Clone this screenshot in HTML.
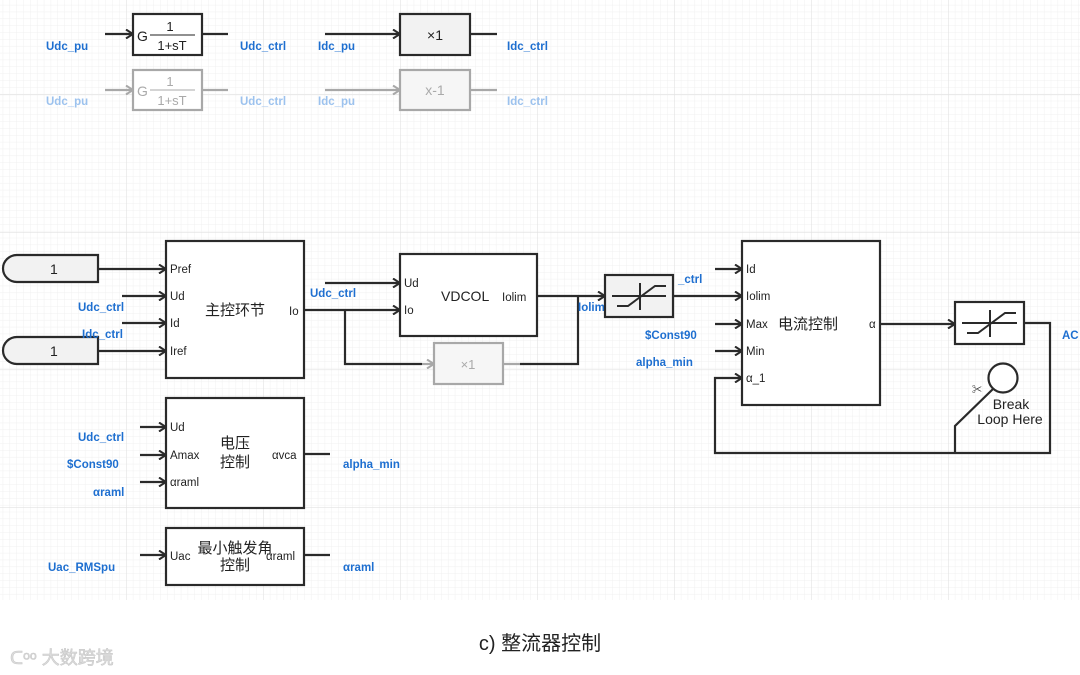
<!DOCTYPE html>
<html><head><meta charset="utf-8"><style>
html,body{margin:0;padding:0;background:#fff;}
svg{display:block;}
text{font-family:"Liberation Sans","Noto Sans CJK SC",sans-serif;}
.b{fill:#1e6fd0;font-size:11.5px;font-weight:bold;}
.lb{fill:#9cc2ee;font-size:11.5px;font-weight:bold;}
.p{fill:#222;font-size:11.5px;}
.blk{fill:#fff;stroke:#2a2a2a;stroke-width:2.2;}
.w{stroke:#2a2a2a;stroke-width:2.2;fill:none;}
.g{stroke:#a8a8a8;stroke-width:2.2;fill:none;}
</style></head><body>
<svg width="1080" height="675" viewBox="0 0 1080 675" xmlns="http://www.w3.org/2000/svg">
<defs>
<pattern id="mn" x="-11" y="-2" width="6.85" height="6.85" patternUnits="userSpaceOnUse">
<path d="M0 0H6.85M0 0V6.85" stroke="#f0f0f0" stroke-width="1"/>
</pattern>
<pattern id="mj" x="-11" y="-43" width="137" height="137.5" patternUnits="userSpaceOnUse">
<path d="M0 0H137M0 0V137.5" stroke="#e2e2e2" stroke-width="1.2"/>
</pattern>
<marker id="ar" markerWidth="10" markerHeight="10" refX="9" refY="5" orient="auto" markerUnits="userSpaceOnUse"><path d="M2 0.5L9 5L2 9.5" fill="none" stroke="#2a2a2a" stroke-width="2"/></marker>
<marker id="ag" markerWidth="10" markerHeight="10" refX="9" refY="5" orient="auto" markerUnits="userSpaceOnUse"><path d="M2 0.5L9 5L2 9.5" fill="none" stroke="#a8a8a8" stroke-width="2"/></marker>
</defs>
<rect x="0" y="0" width="1080" height="600" fill="url(#mn)"/>
<rect x="0" y="0" width="1080" height="600" fill="url(#mj)"/>

<!-- top row -->
<path class="w" d="M105 34H133" marker-end="url(#ar)"/>
<rect class="blk" x="133" y="14" width="69" height="41"/>
<text x="137" y="41" font-size="14" fill="#222">G</text>
<text x="170" y="31" font-size="13" fill="#222" text-anchor="middle">1</text>
<path d="M150 35H195" stroke="#222" stroke-width="1"/>
<text x="172" y="50" font-size="13" fill="#222" text-anchor="middle">1+sT</text>
<path class="w" d="M202 34H228"/>
<text class="b" x="46" y="50">Udc_pu</text>
<text class="b" x="240" y="50">Udc_ctrl</text>

<path class="w" d="M325 34H400" marker-end="url(#ar)"/>
<rect x="400" y="14" width="70" height="41" fill="#f2f2f2" stroke="#2a2a2a" stroke-width="2.2"/>
<text x="435" y="40" font-size="14" fill="#222" text-anchor="middle">×1</text>
<path class="w" d="M470 34H497"/>
<text class="b" x="318" y="50">Idc_pu</text>
<text class="b" x="507" y="50">Idc_ctrl</text>

<!-- gray row -->
<path class="g" d="M105 90H133" marker-end="url(#ag)"/>
<rect x="133" y="70" width="69" height="40" fill="#fff" stroke="#a8a8a8" stroke-width="2.2"/>
<text x="137" y="96" font-size="14" fill="#aaa">G</text>
<text x="170" y="86" font-size="13" fill="#aaa" text-anchor="middle">1</text>
<path d="M150 90H195" stroke="#aaa" stroke-width="1"/>
<text x="172" y="105" font-size="13" fill="#aaa" text-anchor="middle">1+sT</text>
<path class="g" d="M202 90H228"/>
<text class="lb" x="46" y="105">Udc_pu</text>
<text class="lb" x="240" y="105">Udc_ctrl</text>
<path class="g" d="M325 90H400" marker-end="url(#ag)"/>
<rect x="400" y="70" width="70" height="40" fill="#f6f6f6" stroke="#a8a8a8" stroke-width="2.2"/>
<text x="435" y="95" font-size="14" fill="#aaa" text-anchor="middle">x-1</text>
<path class="g" d="M470 90H497"/>
<text class="lb" x="318" y="105">Idc_pu</text>
<text class="lb" x="507" y="105">Idc_ctrl</text>

<!-- constants -->
<path d="M17 255H98V282H17A14 13.5 0 0 1 17 255Z" fill="#f2f2f2" stroke="#2a2a2a" stroke-width="2.2"/>
<text x="50" y="274" font-size="14" fill="#222">1</text>
<path d="M17 337H98V364H17A14 13.5 0 0 1 17 337Z" fill="#f2f2f2" stroke="#2a2a2a" stroke-width="2.2"/>
<text x="50" y="356" font-size="14" fill="#222">1</text>

<!-- main control -->
<path class="w" d="M98 269H166" marker-end="url(#ar)"/>
<path class="w" d="M122 296H166" marker-end="url(#ar)"/>
<path class="w" d="M122 323H166" marker-end="url(#ar)"/>
<path class="w" d="M98 351H166" marker-end="url(#ar)"/>
<rect class="blk" x="166" y="241" width="138" height="137"/>
<text class="p" x="170" y="273">Pref</text>
<text class="p" x="170" y="300">Ud</text>
<text class="p" x="170" y="327">Id</text>
<text class="p" x="170" y="355">Iref</text>
<text x="235" y="315" font-size="15" fill="#222" text-anchor="middle">主控环节</text>
<text class="p" x="289" y="315">Io</text>
<text class="b" x="78" y="311">Udc_ctrl</text>
<text class="b" x="82" y="338">Idc_ctrl</text>
<text class="b" x="310" y="297">Udc_ctrl</text>

<path class="w" d="M304 310H400" marker-end="url(#ar)"/>
<path class="w" d="M325 283H400" marker-end="url(#ar)"/>
<rect class="blk" x="400" y="254" width="137" height="82"/>
<text class="p" x="404" y="287">Ud</text>
<text class="p" x="404" y="314">Io</text>
<text x="441" y="301" font-size="14" fill="#222">VDCOL</text>
<text class="p" x="502" y="301">Iolim</text>
<path class="w" d="M345 310V364H422"/>
<path class="g" d="M422 364H434" marker-end="url(#ag)"/>
<rect x="434" y="343" width="69" height="41" fill="#f6f6f6" stroke="#a8a8a8" stroke-width="2.2"/>
<text x="468" y="369" font-size="13" fill="#aaa" text-anchor="middle">×1</text>
<path class="g" d="M503 364H520"/>
<path class="w" d="M520 364H578V296"/>
<path class="w" d="M537 296H605" marker-end="url(#ar)"/>
<text class="b" x="578" y="311">Iolim</text>

<!-- limiter 1 -->
<rect x="605" y="275" width="68" height="42" fill="#f2f2f2" stroke="#2a2a2a" stroke-width="2.2"/>
<path d="M612 296H666M640 283V310M617 306H628L655 286H666" stroke="#2a2a2a" stroke-width="2" fill="none"/>
<text class="b" x="678" y="283">_ctrl</text>
<path class="w" d="M673 296H742" marker-end="url(#ar)"/>

<!-- current control -->
<path class="w" d="M715 269H742" marker-end="url(#ar)"/>
<path class="w" d="M715 324H742" marker-end="url(#ar)"/>
<path class="w" d="M715 351H742" marker-end="url(#ar)"/>
<rect class="blk" x="742" y="241" width="138" height="164"/>
<text class="p" x="746" y="273">Id</text>
<text class="p" x="746" y="300">Iolim</text>
<text class="p" x="746" y="328">Max</text>
<text x="778" y="329" font-size="15" fill="#222">电流控制</text>
<text class="p" x="746" y="355">Min</text>
<text class="p" x="746" y="382">α_1</text>
<text class="p" x="869" y="328">α</text>
<text class="b" x="645" y="339">$Const90</text>
<text class="b" x="636" y="366">alpha_min</text>
<path class="w" d="M880 324H955" marker-end="url(#ar)"/>
<rect class="blk" x="955" y="302" width="69" height="42"/>
<path d="M962 323H1017M990 310V337M967 333H978L1005 313H1016" stroke="#2a2a2a" stroke-width="2" fill="none"/>
<path class="w" d="M1024 323H1050V453H715V378H742" marker-end="url(#ar)"/>
<text class="b" x="1062" y="339">AC</text>
<circle cx="1003" cy="378" r="14.5" fill="#fff" stroke="#2a2a2a" stroke-width="2.2"/>
<path class="w" d="M993 389L955 426V453"/>
<text x="972" y="393" font-size="10" fill="#222">✂</text>
<text x="1011" y="409" font-size="14" fill="#222" text-anchor="middle">Break</text>
<text x="1010" y="424" font-size="14" fill="#222" text-anchor="middle">Loop Here</text>

<!-- voltage control -->
<path class="w" d="M140 427H166" marker-end="url(#ar)"/>
<path class="w" d="M140 455H166" marker-end="url(#ar)"/>
<path class="w" d="M140 482H166" marker-end="url(#ar)"/>
<rect class="blk" x="166" y="398" width="138" height="110"/>
<text class="p" x="170" y="431">Ud</text>
<text class="p" x="170" y="459">Amax</text>
<text class="p" x="170" y="486">αraml</text>
<text x="235" y="448" font-size="15" fill="#222" text-anchor="middle">电压</text>
<text x="235" y="467" font-size="15" fill="#222" text-anchor="middle">控制</text>
<text class="p" x="272" y="459">αvca</text>
<path class="w" d="M304 454H330"/>
<text class="b" x="78" y="441">Udc_ctrl</text>
<text class="b" x="67" y="468">$Const90</text>
<text class="b" x="93" y="496">αraml</text>
<text class="b" x="343" y="468">alpha_min</text>

<!-- min firing -->
<path class="w" d="M140 555H166" marker-end="url(#ar)"/>
<rect class="blk" x="166" y="528" width="138" height="57"/>
<text class="p" x="170" y="560">Uac</text>
<text x="235" y="553" font-size="15" fill="#222" text-anchor="middle">最小触发角</text>
<text x="235" y="570" font-size="15" fill="#222" text-anchor="middle">控制</text>
<text class="p" x="266" y="560">αraml</text>
<path class="w" d="M304 555H330"/>
<text class="b" x="48" y="571">Uac_RMSpu</text>
<text class="b" x="343" y="571">αraml</text>

<!-- caption -->
<text x="540" y="650" font-size="20" fill="#222" text-anchor="middle">c) 整流器控制</text>
<text x="10" y="664" font-size="18" fill="#ddd" stroke="#c8c8c8" stroke-width="0.6">ᑕᵒᵒ 大数跨境</text>
</svg>
</body></html>
